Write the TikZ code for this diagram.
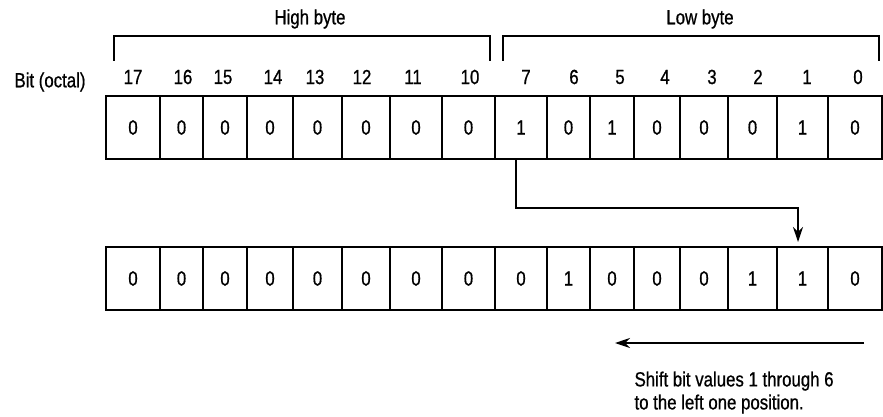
\documentclass[tikz,border=0pt]{standalone}
\usepackage{fontspec}
\setmainfont{Liberation Sans}[FakeStretch=0.82,FakeBold=0.8]
\usetikzlibrary{arrows.meta}
\begin{document}
\begin{tikzpicture}[x=1pt,y=-1pt,
  font=\fontsize{20.5}{23}\selectfont,
  line width=1.1pt,
  cell/.style={draw, line width=1.1pt, inner sep=0pt, outer sep=0pt, minimum height=63pt},
  lbl/.style={inner sep=0pt},
  tip/.style={-{Stealth[length=15pt,width=10pt]}}]
\useasboundingbox (0,0) rectangle (883,417);
% cells
\foreach \l/\r/\v/\w [count=\i] in {106/160/0/0, 160/203/0/0, 203/247/0/0, 247/293/0/0,
  293/342/0/0, 342/390/0/0, 390/442/0/0, 442/495/0/0, 495/547/1/0, 547/590/0/1,
  590/634/1/0, 634/680/0/0, 680/728/0/0, 728/777/0/1, 777/828/1/1, 828/882/0/0}{
  \node[cell, minimum width={\r-\l}] (a\i) at ({(\l+\r)/2},127.5) {\v};
  \node[cell, minimum width={\r-\l}] (b\i) at ({(\l+\r)/2},278.5) {\w};
}
% bit labels
\foreach \t/\x in {17/133, 16/183, 15/223, 14/273, 13/315, 12/362, 11/413, 10/470,
  7/526, 6/574, 5/620, 4/665, 3/712, 2/758, 1/807, 0/858}{
  \node[lbl] (bit\t) at (\x,77) {\t};
}
\node[lbl] (bitoctal) at (50,82) {Bit (octal)};
% brackets
\draw (114,61) -- (114,36) -- (490,36) -- (490,61);
\draw (503,61) -- (503,36) -- (879,36) -- (879,61);
\node[lbl] (high) at (310,19) {High byte};
\node[lbl] (low) at (700,19) {Low byte};
% move arrow
\draw[tip] ([xshift=-5pt]a9.south) |- (798,208) -- ([xshift=-4.5pt,yshift=5pt]b15.north);
% shift arrow
\coordinate (sstart) at (864,343);
\coordinate (send) at (615,343);
\draw[tip] (sstart) -- (send);
\node[lbl, anchor=north west, align=left] (note) at (634,371)
  {Shift bit values 1 through 6\\to the left one position.};
\end{tikzpicture}
\end{document}
